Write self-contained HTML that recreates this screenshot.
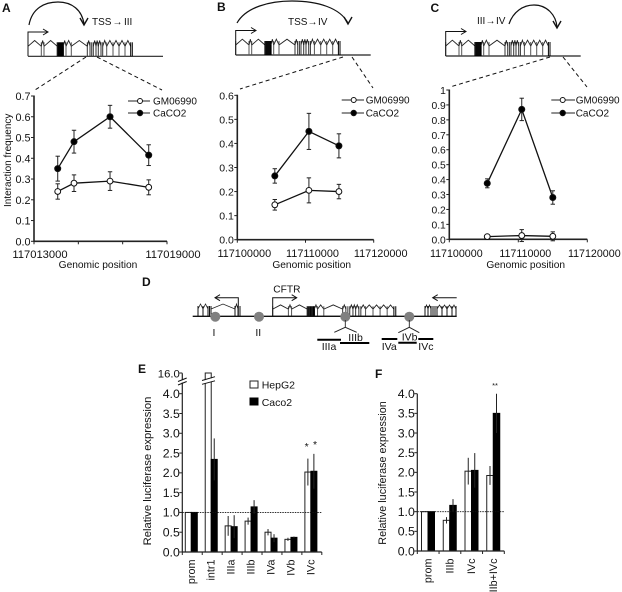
<!DOCTYPE html>
<html lang="en">
<head>
<meta charset="utf-8">
<title>CFTR interaction frequency and luciferase expression</title>
<style>
html,body{margin:0;padding:0;background:#fff;width:622px;height:592px;overflow:hidden}
svg{display:block;font-family:"Liberation Sans",sans-serif;fill:#111;filter:blur(0.35px)}
</style>
</head>
<body>
<svg id="fig" width="622" height="592" viewBox="0 0 622 592" xmlns="http://www.w3.org/2000/svg"></svg>
<script>
// Panel A data
const aPositions = [117014070, 117014805, 117016430, 117018175];
const aGm = [0.24, 0.28, 0.29, 0.26];
const aGmErr = [0.037, 0.04, 0.045, 0.036];
const aCaco = [0.35, 0.48, 0.60, 0.415];
const aCacoErr = [0.06, 0.055, 0.055, 0.05];
const aYTicks = [0, 0.1, 0.2, 0.3, 0.4, 0.5, 0.6, 0.7];
const aXTicks = [117013000, 117015000, 117017000, 117019000];
const aXLabels = ['117013000', '', '', '117019000'];
// Panel B data
const bPositions = [117105500, 117110500, 117114900];
const bGm = [0.145, 0.205, 0.20];
const bGmErr = [0.022, 0.052, 0.03];
const bCaco = [0.265, 0.45, 0.39];
const bCacoErr = [0.03, 0.075, 0.05];
const bYTicks = [0, 0.1, 0.2, 0.3, 0.4, 0.5, 0.6];
const bXTicks = [117100000, 117110000, 117120000];
const bXLabels = ['117100000', '117110000', '117120000'];
// Panel C data
const cPositions = [117105500, 117110500, 117115000];
const cGm = [0.018, 0.025, 0.02];
const cGmErr = [0.012, 0.04, 0.03];
const cCaco = [0.375, 0.87, 0.28];
const cCacoErr = [0.03, 0.075, 0.045];
const cYTicks = [0, 0.1, 0.2, 0.3, 0.4, 0.5, 0.6, 0.7, 0.8, 0.9, 1];
const cYLabels = ['0.0', '0.1', '0.2', '0.3', '0.4', '0.5', '0.6', '0.7', '0.8', '0.9', '1'];
const cXTicks = [117100000, 117110000, 117120000];
const cXLabels = ['117100000', '117110000', '117120000'];
// Panel E data
const eCategories = ['prom', 'intr1', 'IIIa', 'IIIb', 'IVa', 'IVb', 'IVc'];
const eHep = [1, 16, 0.66, 0.78, 0.5, 0.32, 2.02];
const eHepErr = [0, 0, 0.25, 0.09, 0.08, 0.04, 0.34];
const eCaco = [1, 2.34, 0.64, 1.14, 0.35, 0.37, 2.04];
const eCacoErr = [0, 0.53, 0.29, 0.17, 0.1, 0.02, 0.44];
const eYTicks = [0, 0.5, 1, 1.5, 2, 2.5, 3, 3.5, 4, 16];
// Panel F data
const fCategories = ['prom', 'IIIb', 'IVc', 'IIIb+IVc'];
const fHep = [1, 0.78, 2.03, 1.92];
const fHepErr = [0, 0.08, 0.34, 0.24];
const fCaco = [1, 1.16, 2.05, 3.5];
const fCacoErr = [0, 0.16, 0.44, 0.5];
const fYTicks = [0, 0.5, 1, 1.5, 2, 2.5, 3, 3.5, 4];
// Gene model: exon offsets along the transcript
const exonOffsets = [0, 13.3, 16, 29.3, 30.5, 31.5, 32.5, 33.5, 34.5, 35.3, 38, 43.3, 59.3, 62, 63.7, 65.3, 68, 70.3, 73, 74.7, 78.7, 85, 91, 97, 102.7, 104.3];

const svg = document.getElementById('fig');
const NS = 'http://www.w3.org/2000/svg';
const INK = '#1c1c1c';

function add(tag, attrs, name) {
  const el = document.createElementNS(NS, tag);
  for (const k in attrs) el.setAttribute(k, attrs[k]);
  
  
  svg.appendChild(el);
  return el;
}
function line(x1, y1, x2, y2, name, w, color, dash) {
  const a = {x1, y1, x2, y2, stroke: color || INK, 'stroke-width': w || 1};
  if (dash) a['stroke-dasharray'] = dash;
  return add('line', a, name);
}
function text(x, y, str, size, name, anchor, weight, rot) {
  const a = {x, y, 'font-size': size, 'text-anchor': anchor || 'start', fill: '#111'};
  if (weight) a['font-weight'] = weight;
  if (rot) a.transform = 'rotate(' + rot + ' ' + x + ' ' + y + ')';
  const el = add('text', a, name);
  el.textContent = str;
  return el;
}
function linear(d0, d1, r0, r1) {
  return v => r0 + (v - d0) / (d1 - d0) * (r1 - r0);
}
function polyline(points, name, w, color) {
  return add('polyline', {points: points.join(' '), fill: 'none', stroke: color || INK, 'stroke-width': w || 1}, name);
}

function gene(x0, base, sx, sy, tailEnd, prefix) {
  const offs = exonOffsets;
  line(x0, base, tailEnd, base, prefix + '-baseline', 1.2, '#222');
  for (let i = 0; i < offs.length; i++) {
    const x = x0 + offs[i] * sx;
    const dense = offs[i] >= 29 && offs[i] <= 36;
    const shade = dense || i > 23 ? '#000' : (offs[i] >= 59 && offs[i] <= 75 ? '#333' : '#555');
    line(x, base, x, base - 14 * sy, prefix + '-exon', dense ? 1.2 : 1, shade);
    if (i < offs.length - 1 && offs[i + 1] - offs[i] > 2) {
      const nx = x0 + offs[i + 1] * sx;
      polyline([x + ',' + (base - 10 * sy), (x + nx) / 2 + ',' + (base - 15.8 * sy), nx + ',' + (base - 10 * sy)], prefix + '-intron', 0.9, '#222');
    }
  }
}
function arrowHead(x, y, dir, name) {
  polyline([(x - dir * 5) + ',' + (y - 3), x + ',' + y, (x - dir * 5) + ',' + (y + 3)], name, 1, '#111');
}
function tss(x, base, topY, endX, name) {
  polyline([x + ',' + base, x + ',' + topY, endX + ',' + topY], name, 1, '#111');
  arrowHead(endX, topY, endX > x ? 1 : -1, name + '-head');
}
function arc(path, tipX, tipY, name) {
  add('path', {d: path, fill: 'none', stroke: '#111', 'stroke-width': 1.2}, name);
  polyline([(tipX - 4) + ',' + (tipY - 7), tipX + ',' + tipY, (tipX + 4) + ',' + (tipY - 7)], name + '-head', 1.4, '#111');
}

function linePanel(o) {
  const x = linear(o.xDom[0], o.xDom[1], o.x0, o.x1);
  const y = linear(0, o.yMax, o.y0, o.yTop);
  line(o.x0, o.y0 + 0.6, o.x0, o.yTop - 0.5, o.id + '-y-axis', 1.6, '#222');
  line(o.x0, o.y0, o.x1, o.y0, o.id + '-x-axis', 1.6, '#222');
  o.yTicks.forEach((t, i) => {
    line(o.x0 - 3, y(t), o.x0, y(t), o.id + '-y-tick', 1, '#222');
    text(o.x0 - 3.5, y(t) + 4, o.yLabels ? o.yLabels[i] : t.toFixed(1), o.tickSize, o.id + '-y-tick-label', 'end');
  });
  o.xTicks.forEach((t, i) => {
    line(x(t), o.y0, x(t), o.y0 + 3, o.id + '-x-tick', 1, '#222');
    if (o.xLabels[i]) text(x(t) + o.labelShift, o.labelY, o.xLabels[i], o.xSize, o.id + '-x-tick-label', 'middle');
  });
  text(o.titleX, 268, 'Genomic position', 10.2, o.id + '-x-axis-title', 'middle');

  function series(vals, errs, fill, name) {
    vals.forEach((v, i) => {
      const px = x(o.pos[i]);
      line(px, y(v - errs[i]), px, y(v + errs[i]), name + '-error-bar', 1, '#222');
      line(px - 2.2, y(v + errs[i]), px + 2.2, y(v + errs[i]), name + '-error-cap', 1, '#222');
      line(px - 2.2, y(v - errs[i]), px + 2.2, y(v - errs[i]), name + '-error-cap', 1, '#222');
    });
    polyline(vals.map((v, i) => x(o.pos[i]) + ',' + y(v)), name + '-line', 1.3, '#111');
    vals.forEach((v, i) => {
      add('circle', {cx: x(o.pos[i]), cy: y(v), r: fill === '#fff' ? 2.9 : 3, fill: fill, stroke: '#111', 'stroke-width': 1}, name + '-point');
    });
  }
  series(o.gm, o.gmErr, '#fff', o.id + '-gm06990');
  series(o.caco, o.cacoErr, '#000', o.id + '-caco2');

  const L = o.legend;
  line(L.x0, L.y1, L.x1, L.y1, o.id + '-legend-line-gm06990', 1.1, '#222');
  add('circle', {cx: L.mx, cy: L.y1, r: 2.5, fill: '#fff', stroke: '#111', 'stroke-width': 1}, o.id + '-legend-marker-gm06990');
  text(L.tx, L.y1 + 3.5, 'GM06990', 10, o.id + '-legend-label-gm06990');
  line(L.x0, L.y2, L.x1, L.y2, o.id + '-legend-line-caco2', 1.1, '#222');
  add('circle', {cx: L.mx, cy: L.y2, r: 2.7, fill: '#000', stroke: '#111', 'stroke-width': 1}, o.id + '-legend-marker-caco2');
  text(L.tx, L.y2 + 3.5, 'CaCO2', 10, o.id + '-legend-label-caco2');
}

function barPanel(o) {
  const yLow = linear(0, 4, o.y0, o.y4);
  const y = o.broken
    ? (v => v <= 4.2 ? yLow(v) : linear(4.2, 16, 381, o.y16)(v))
    : yLow;
  const x = i => o.x0 + o.first + i * o.step;

  o.categories.forEach((c, i) => {
    const cx = x(i);
    add('rect', {x: cx - o.bw, y: y(o.hep[i]), width: o.bw, height: o.y0 - y(o.hep[i]), fill: '#fff', stroke: '#222', 'stroke-width': 1}, o.id + '-bar-hepg2-' + c);
    add('rect', {x: cx, y: y(o.caco[i]), width: o.bw, height: o.y0 - y(o.caco[i]), fill: '#000', stroke: '#000', 'stroke-width': 1}, o.id + '-bar-caco2-' + c);
    if (o.hepErr[i] > 0) line(cx - o.bw / 2, y(o.hep[i] - o.hepErr[i]), cx - o.bw / 2, y(o.hep[i] + o.hepErr[i]), o.id + '-error-hepg2-' + c, 1, '#222');
    if (o.cacoErr[i] > 0) line(cx + o.bw / 2, y(o.caco[i] - o.cacoErr[i]), cx + o.bw / 2, y(o.caco[i] + o.cacoErr[i]), o.id + '-error-caco2-' + c, 1, '#222');
    text(cx + 3.5, o.y0 + 7.5, c, 10.8, o.id + '-category-label-' + c, 'end', null, -90);
  });
  line(o.x0, o.y0 + 0.5, o.x0, o.yAxisTop, o.id + '-y-axis', 1.2, '#222');
  line(o.x0, o.y0, o.x1, o.y0, o.id + '-x-axis', 1.2, '#222');
  o.yTicks.forEach(t => {
    line(o.x0 - 3, y(t), o.x0, y(t), o.id + '-y-tick', 1, '#222');
    text(o.x0 - 2.5, y(t) + 4.3, t.toFixed(1), t === 16 ? 11.3 : 12.3, o.id + '-y-tick-label', 'end');
  });
  for (let i = 0; i <= o.categories.length; i++) {
    line(o.x0 + i * o.step, o.y0, o.x0 + i * o.step, o.y0 + 3, o.id + '-x-tick', 1, '#222');
  }
  line(o.x0, yLow(1), o.x1, yLow(1), o.id + '-reference-line', 0.8, '#111', '1.5 1');
  text(o.titleX, o.titleY, 'Relative luciferase expression', o.titleSize, o.id + '-y-axis-title', 'middle', null, -90);
}

/* ---------- top gene diagrams ---------- */
gene(28, 56.3, 1, 1, 163, 'gene-a');
tss(28, 56, 32, 48, 'gene-a-tss-arrow');
arc('M29 25 C32 8 45 2 58 2 C72 2 82 10 84 24', 84, 25, 'gene-a-interaction-arc');
text(92, 25, 'TSS', 10, 'gene-a-tss-label');
text(112.5, 25, '→', 10, 'gene-a-arrow-label', 'start', 'bold');
text(124, 25, 'III', 10, 'gene-a-target-label');
line(86, 57, 35, 90, 'zoom-guide-a-left', 1, '#111', '4 3');
line(97, 57, 162, 90, 'zoom-guide-a-right', 1, '#111', '4 3');

gene(235.7, 55, 1, 1, 370.7, 'gene-b');
tss(235.7, 55, 30.5, 256, 'gene-b-tss-arrow');
arc('M237 23 C246 7 270 1 292 1 C318 1 340 8 348 23', 348, 24, 'gene-b-interaction-arc');
text(288, 25, 'TSS', 10, 'gene-b-tss-label');
text(307.5, 25, '→', 10, 'gene-b-arrow-label', 'start', 'bold');
text(318, 25, 'IV', 10, 'gene-b-target-label');
line(343, 57, 240, 89, 'zoom-guide-b-left', 1, '#111', '4 3');
line(352, 57, 373, 88, 'zoom-guide-b-right', 1, '#111', '4 3');

gene(445.7, 56, 1, 1, 580.7, 'gene-c');
tss(445.7, 56, 31.5, 466, 'gene-c-tss-arrow');
arc('M509 24 C513 12 523 5 534 5 C547 5 556 15 557 27', 557, 28, 'gene-c-interaction-arc');
text(477, 24, 'III', 10, 'gene-c-source-label');
text(485.5, 24, '→', 10, 'gene-c-arrow-label', 'start', 'bold');
text(496, 24, 'IV', 10, 'gene-c-target-label');
line(550, 57, 450, 87, 'zoom-guide-c-left', 1, '#111', '4 3');
line(563, 57, 587, 87, 'zoom-guide-c-right', 1, '#111', '4 3');

/* ---------- line charts ---------- */
linePanel({id: 'panel-a', x0: 34, x1: 167, y0: 241.3, yTop: 96, yMax: 0.7,
  xDom: [117013000, 117019000], pos: aPositions, gm: aGm, gmErr: aGmErr, caco: aCaco, cacoErr: aCacoErr,
  yTicks: aYTicks, xTicks: aXTicks, xLabels: aXLabels, tickSize: 10.8, xSize: 11.2, labelShift: 6, labelY: 258, titleX: 98,
  legend: {x0: 128, x1: 150, mx: 140, tx: 153, y1: 101, y2: 113}});
linePanel({id: 'panel-b', x0: 237.3, x1: 373.7, y0: 239.7, yTop: 95.3, yMax: 0.6,
  xDom: [117100000, 117120000], pos: bPositions, gm: bGm, gmErr: bGmErr, caco: bCaco, cacoErr: bCacoErr,
  yTicks: bYTicks, xTicks: bXTicks, xLabels: bXLabels, tickSize: 10.5, xSize: 10.9, labelShift: 7, labelY: 257, titleX: 311.7,
  legend: {x0: 341.7, x1: 364, mx: 353.7, tx: 365.7, y1: 100, y2: 113}});
linePanel({id: 'panel-c', x0: 449.3, x1: 587.3, y0: 239.3, yTop: 90, yMax: 1,
  xDom: [117100000, 117120000], pos: cPositions, gm: cGm, gmErr: cGmErr, caco: cCaco, cacoErr: cCacoErr,
  yTicks: cYTicks, yLabels: cYLabels, xTicks: cXTicks, xLabels: cXLabels, tickSize: 10.3, xSize: 10.7, labelShift: 7, labelY: 257, titleX: 525.7,
  legend: {x0: 551.3, x1: 575, mx: 562.7, tx: 575.7, y1: 100, y2: 113}});
text(11, 207, 'Interaction frequency', 10, 'panel-a-y-axis-title', 'start', null, -90);

/* ---------- panel D ---------- */
gene(272.7, 316.3, 1.18, 0.72, 397, 'gene-d-cftr');
line(192.7, 316.3, 456.7, 316.3, 'locus-baseline', 1.3, '#111');
tss(272.7, 316, 297.7, 296.7, 'gene-d-cftr-tss-arrow');
text(273.3, 292.7, 'CFTR', 10.2, 'gene-d-cftr-label');
tss(238.3, 316, 297.7, 215, 'gene-d-left-arrow');
line(456.7, 297.7, 433, 297.7, 'gene-d-right-arrow', 1, '#111');
arrowHead(432.7, 297.7, -1, 'gene-d-right-arrow-head');
const leftExons = [198, 203, 208, 209.5, 211, 235, 238, 240];
leftExons.forEach((ex, i) => {
  line(ex, 316, ex, 306, 'gene-d-left-exon', 1, '#111');
  if (i < leftExons.length - 1 && leftExons[i + 1] - ex > 2) {
    polyline([ex + ',309', (ex + leftExons[i + 1]) / 2 + ',304', leftExons[i + 1] + ',309'], 'gene-d-left-intron', 0.8, '#222');
  }
});
const rightExons = [425, 428, 431, 433, 435, 437, 442, 447, 452, 456];
rightExons.forEach((ex, i) => {
  line(ex, 316, ex, 306, 'gene-d-right-exon', 1, '#111');
  if (i < rightExons.length - 1 && rightExons[i + 1] - ex > 2.5) {
    polyline([ex + ',309', (ex + rightExons[i + 1]) / 2 + ',305', rightExons[i + 1] + ',309'], 'gene-d-right-intron', 0.8, '#222');
  }
});
const dhsPeaks = [215.3, 259, 345.3, 409.3];
dhsPeaks.forEach(cx => {
  add('circle', {cx: cx, cy: 316.7, r: 5, fill: '#808080'}, 'dhs-site');
});
text(214, 336, 'I', 10.5, 'site-label-i', 'middle');
text(258.3, 336, 'II', 10.5, 'site-label-ii', 'middle');
polyline(['334.3,332.3', '345.3,327.3', '356.7,332.3'], 'site-iii-branch', 0.9, '#222');
line(345.3, 320, 345.3, 327.3, 'site-iii-stem', 0.9, '#222');
polyline(['398.3,332.7', '409.3,327.3', '419.3,332.7'], 'site-iv-branch', 0.9, '#222');
line(409.3, 320, 409.3, 327.3, 'site-iv-stem', 0.9, '#222');
line(317.3, 339.7, 341, 339.7, 'fragment-iiia', 2, '#000');
line(340, 343, 369.3, 343, 'fragment-iiib', 2, '#000');
line(381.7, 339, 397.3, 339, 'fragment-iva', 2, '#000');
line(398.3, 342.7, 416.7, 342.7, 'fragment-ivb', 2, '#000');
line(418.3, 339, 433.3, 339, 'fragment-ivc', 2, '#000');
text(321.7, 350, 'IIIa', 10.5, 'fragment-label-iiia');
text(348.3, 341, 'IIIb', 10.5, 'fragment-label-iiib');
text(381.7, 350, 'IVa', 10.5, 'fragment-label-iva');
text(401.7, 340.3, 'IVb', 10.5, 'fragment-label-ivb');
text(418.3, 350, 'IVc', 10.5, 'fragment-label-ivc');

/* ---------- bar charts ---------- */
barPanel({id: 'panel-e', x0: 182.3, x1: 321.7, y0: 552, y4: 393.7, y16: 373, broken: true, yAxisTop: 373.3,
  first: 9, step: 19.93, bw: 6, categories: eCategories, hep: eHep, hepErr: eHepErr, caco: eCaco, cacoErr: eCacoErr,
  yTicks: eYTicks, titleX: 151, titleY: 471, titleSize: 11.2});
barPanel({id: 'panel-f', x0: 417.3, x1: 504.3, y0: 551, y4: 393.7, broken: false, yAxisTop: 393.7,
  first: 10.7, step: 21.75, bw: 6.5, categories: fCategories, hep: fHep, hepErr: fHepErr, caco: fCaco, cacoErr: fCacoErr,
  yTicks: fYTicks, titleX: 386, titleY: 473, titleSize: 10.8});

// axis and bar breaks in panel E
add('rect', {x: 176, y: 380, width: 12, height: 2.5, fill: '#fff'}, 'panel-e-axis-break-gap');
line(178, 381.5, 186.7, 378, 'panel-e-axis-break-mark', 1, '#111');
line(178, 385, 186.7, 381.5, 'panel-e-axis-break-mark', 1, '#111');
add('polygon', {points: '202,381 215,377.2 215,380.5 202,384', fill: '#fff'}, 'panel-e-bar-break-gap');
line(202, 380.5, 215, 376.7, 'panel-e-bar-break-mark', 1, '#111');
line(202, 384.3, 215, 380.8, 'panel-e-bar-break-mark', 1, '#111');

// panel E legend
add('rect', {x: 250, y: 381, width: 8, height: 7, fill: '#fff', stroke: '#222', 'stroke-width': 1}, 'legend-swatch-hepg2');
text(261.7, 388.5, 'HepG2', 10.5, 'legend-label-hepg2');
add('rect', {x: 250, y: 398, width: 8, height: 7, fill: '#000', stroke: '#000', 'stroke-width': 1}, 'legend-swatch-caco2');
text(261.7, 406, 'Caco2', 10.5, 'legend-label-caco2');

// significance marks
text(306.7, 450, '*', 10.5, 'significance-ivc-hepg2', 'middle');
text(315, 448, '*', 10.5, 'significance-ivc-caco2', 'middle');
text(495, 388, '**', 7.5, 'significance-iiib-ivc', 'middle');

/* ---------- panel letters ---------- */
text(2, 12, 'A', 12, 'panel-letter-a', 'start', 'bold');
text(217, 11, 'B', 12, 'panel-letter-b', 'start', 'bold');
text(430.5, 12, 'C', 12, 'panel-letter-c', 'start', 'bold');
text(142, 286, 'D', 12, 'panel-letter-d', 'start', 'bold');
text(138, 373, 'E', 12, 'panel-letter-e', 'start', 'bold');
text(375, 378, 'F', 12, 'panel-letter-f', 'start', 'bold');
</script>
</body>
</html>
